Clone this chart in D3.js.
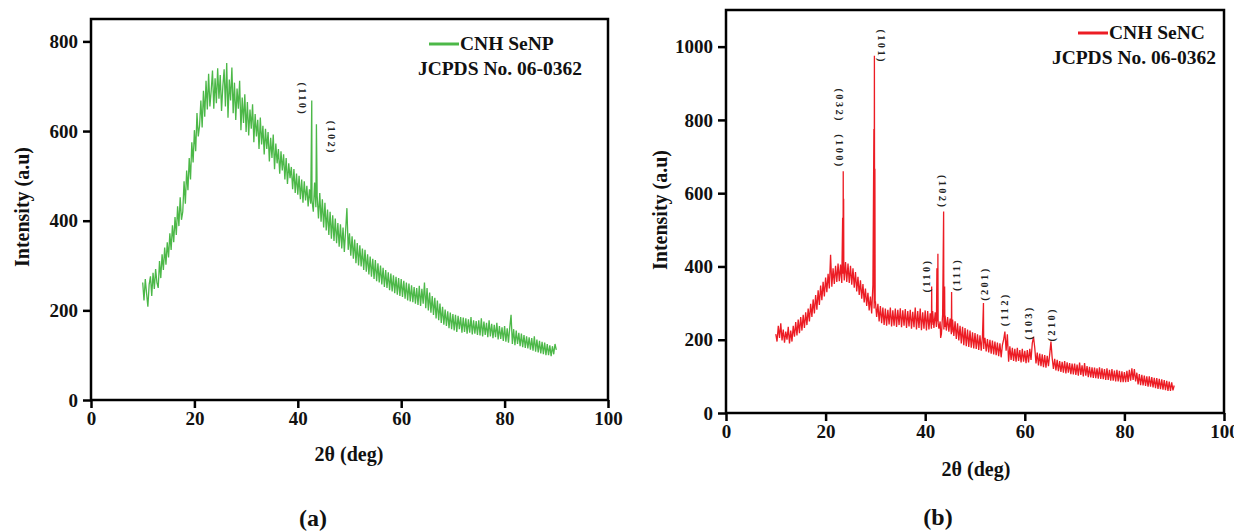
<html>
<script src="https://d3js.org/d3.v7.min.js"></script>
<style>
body { margin: 0; background: #fff; }
text { font-family: "Liberation Serif", "Times New Roman", serif; font-weight: bold; fill: #111; }
.tick line { stroke: #000; stroke-width: 2.5px; }
.tick text { font-size: 19px; font-family: "Liberation Serif", "Times New Roman", serif; }
</style>
<body>
<script>
// 2θ sampling of the scans (deg)
var twoThetaStart = 10, twoThetaStep = 0.25;

// (a) CNH SeNP intensity, 10° .. 90° every 0.25°
var senpIntensity = [
  262,222,270,238,208,258,276,232,284,248,292,262,250,310,272,325,290,340,302,352,
  318,372,335,390,352,408,368,432,388,452,402,420,488,438,512,468,540,492,575,530,
  602,555,640,588,612,668,608,690,632,712,648,728,655,690,735,650,718,662,740,672,
  725,645,700,738,655,752,630,715,668,742,640,708,625,695,650,712,602,675,618,682,
  598,665,590,648,605,660,575,638,588,625,560,630,570,612,548,605,560,598,532,585,
  540,592,515,572,528,560,505,555,512,548,492,540,482,528,495,520,470,515,462,505,
  458,500,448,492,440,488,445,478,432,470,438,445,420,485,430,455,405,462,398,448,
  385,440,378,425,368,420,360,412,355,405,350,395,342,392,338,385,330,378,428,335,
  372,322,365,315,358,305,350,300,345,298,338,290,335,286,325,280,320,275,315,270,
  312,265,305,262,300,258,295,252,290,250,285,245,282,242,278,238,275,235,272,232,
  270,230,266,226,262,222,260,220,256,218,252,215,250,212,255,210,248,215,262,205,
  250,200,240,195,232,190,228,182,222,178,215,172,208,168,202,165,198,160,195,158,
  192,155,190,152,188,158,185,150,184,152,182,148,180,150,185,146,178,148,176,145,
  178,144,182,142,175,145,172,140,178,142,170,138,168,140,172,135,165,136,162,132,
  165,130,160,128,162,190,125,158,122,155,125,150,120,148,118,145,116,142,115,140,
  112,138,110,142,108,135,106,132,104,130,102,128,100,125,100,122,98,120,102,125,
  112
];
var senpPeaks = [[42.7, 668], [43.6, 615]];

// (b) CNH SeNC intensity, 10° .. 90° every 0.25°
var sencIntensity = [
  215,195,238,205,245,198,228,192,222,200,235,190,225,195,238,208,248,212,255,218,
  262,225,268,232,275,240,285,250,298,262,310,272,322,282,335,295,348,308,358,318,
  370,330,380,340,432,345,395,352,402,358,408,360,405,355,410,362,412,358,408,355,
  402,350,395,342,385,332,372,322,362,312,352,302,340,292,328,280,318,272,350,285,
  305,262,298,250,292,245,288,240,285,238,282,242,288,236,280,238,285,235,282,240,
  286,234,280,238,284,232,278,236,282,230,276,234,288,228,278,232,285,226,275,230,
  280,225,278,228,272,230,278,232,275,235,270,230,250,215,268,228,265,225,262,222,
  258,215,255,210,250,202,245,198,238,190,235,185,232,182,228,180,225,178,220,176,
  218,175,215,172,212,170,210,175,205,168,202,165,200,162,198,160,195,158,192,155,
  190,152,185,200,222,170,215,140,182,145,178,142,175,140,178,142,172,138,175,140,
  170,136,172,138,175,145,190,208,178,135,165,130,162,128,160,125,158,124,156,128,
  160,195,150,120,148,116,145,114,142,112,140,110,142,108,138,110,136,106,135,105,
  135,104,132,102,138,104,130,100,136,102,128,98,126,97,125,96,124,95,122,94,
  125,93,122,92,120,90,122,90,118,88,120,88,116,86,118,86,115,84,114,84,
  112,84,115,85,118,88,122,90,120,86,110,78,106,76,104,75,102,74,100,72,
  100,72,98,70,96,68,95,66,93,65,92,64,90,62,88,60,86,60,84,62,
  75
];
var sencPeaks = [
  [23.42, 533], [23.46, 380], [23.54, 660], [23.58, 390], [23.62, 585], [23.66, 385],
  [29.7, 775], [29.75, 320], [29.8, 975], [29.85, 330], [29.9, 667], [29.95, 300],
  [41.3, 345], [41.35, 240], [42.35, 395], [42.4, 250], [42.55, 435], [42.6, 245],
  [43.1, 205], [43.7, 550], [43.8, 260], [43.9, 345], [43.95, 235],
  [45.3, 330], [45.35, 220], [51.7, 300], [51.8, 190]
];

var xTicks = [0, 20, 40, 60, 80, 100];
var yTicksA = [0, 200, 400, 600, 800];
var yTicksB = [0, 200, 400, 600, 800, 1000];

// Miller index labels: [label, 2θ, intensity, rotation]
var senpLabels = [["(110)", 41.0, 671, 90], ["(102)", 46.6, 585, 90]];
var sencLabels = [
  ["(100)", 22.9, 714, 90], ["(032)", 22.9, 839, 90], ["(101)", 31.3, 1000, 90],
  ["(102)", 43.6, 603, 90], ["(110)", 40.2, 375, -90], ["(111)", 46.2, 378, -90],
  ["(201)", 51.8, 353, -90], ["(112)", 55.8, 283, -90], ["(103)", 60.8, 247, -90],
  ["(210)", 65.4, 242, -90]
];

var svg = d3.select("body").append("svg")
  .attr("width", 1234).attr("height", 531)
  .style("background", "#fff");

function drawPanel(p) {
  var x = d3.scaleLinear().domain([0, 100]).range([p.left, p.right]);
  var y = d3.scaleLinear().domain([0, p.yMax]).range([p.bottom, p.top]);
  var g = svg.append("g");

  var pts = p.values.map(function(v, i) { return [twoThetaStart + i * twoThetaStep, v]; });
  pts = pts.concat(p.peaks).sort(function(a, b) { return a[0] - b[0]; });

  g.append("path")
    .datum(pts)
    .attr("fill", "none")
    .attr("stroke", p.color)
    .attr("stroke-width", 1.3)
    .attr("d", d3.line().x(function(d) { return x(d[0]); }).y(function(d) { return y(d[1]); }));

  // frame
  g.append("rect")
    .attr("x", p.left).attr("y", p.top)
    .attr("width", p.right - p.left).attr("height", p.bottom - p.top)
    .attr("fill", "none").attr("stroke", "#000").attr("stroke-width", 2.5);

  var xa = g.append("g").attr("transform", "translate(0," + p.bottom + ")")
    .call(d3.axisBottom(x).tickValues(xTicks).tickFormat(d3.format("d"))
      .tickSize(8).tickSizeOuter(0).tickPadding(4));
  xa.select(".domain").remove();

  var ya = g.append("g").attr("transform", "translate(" + p.left + ",0)")
    .call(d3.axisLeft(y).tickValues(p.yTicks).tickFormat(d3.format("d"))
      .tickSize(8).tickSizeOuter(0).tickPadding(5));
  ya.select(".domain").remove();

  g.append("text")
    .attr("x", p.xTitleX).attr("y", p.bottom + p.xTitleDy)
    .attr("text-anchor", "middle").style("font-size", "20px")
    .text("2θ (deg)");

  g.append("text")
    .attr("transform", "translate(" + p.yTitleX + "," + p.yTitleY + ") rotate(-90)")
    .attr("text-anchor", "middle").attr("dy", "0.35em").style("font-size", "20px")
    .text("Intensity (a.u)");

  g.append("text")
    .attr("x", p.capX).attr("y", p.capY)
    .attr("text-anchor", "middle").style("font-size", "24px")
    .text(p.caption);

  // legend
  g.append("line")
    .attr("x1", p.legX).attr("x2", p.legX + 30)
    .attr("y1", p.legY - 6).attr("y2", p.legY - 6)
    .attr("stroke", p.color).attr("stroke-width", 3);
  g.append("text").attr("x", p.legX + 31).attr("y", p.legY)
    .style("font-size", "19.5px").text(p.name);
  g.append("text").attr("x", p.jcX).attr("y", p.legY + 25)
    .attr("text-anchor", "end")
    .style("font-size", "19.5px").text("JCPDS No. 06-0362");

  g.selectAll(".hkl").data(p.labels).enter().append("text")
    .attr("class", "hkl")
    .attr("transform", function(d) { return "translate(" + x(d[1]) + "," + y(d[2]) + ") rotate(" + d[3] + ")"; })
    .attr("text-anchor", "middle").attr("dy", "0.35em")
    .style("font-size", "10.5px").style("letter-spacing", "2.3px").style("fill", "#222")
    .text(function(d) { return d[0]; });
}

drawPanel({
  left: 91, right: 608, top: 19, bottom: 400, yMax: 850,
  values: senpIntensity, peaks: senpPeaks, color: "#4cb848",
  yTicks: yTicksA, labels: senpLabels, name: "CNH SeNP",
  xTitleX: 349, xTitleDy: 61,
  yTitleX: 22, yTitleY: 207, capX: 313, capY: 526, caption: "(a)",
  legX: 429, legY: 50, jcX: 582
});

drawPanel({
  left: 726, right: 1224, top: 10, bottom: 413, yMax: 1100,
  values: sencIntensity, peaks: sencPeaks, color: "#ec1c24",
  yTicks: yTicksB, labels: sencLabels, name: "CNH SeNC",
  xTitleX: 976, xTitleDy: 63,
  yTitleX: 660, yTitleY: 210, capX: 938, capY: 525, caption: "(b)",
  legX: 1078, legY: 39, jcX: 1216
});
</script>
</body>
</html>
